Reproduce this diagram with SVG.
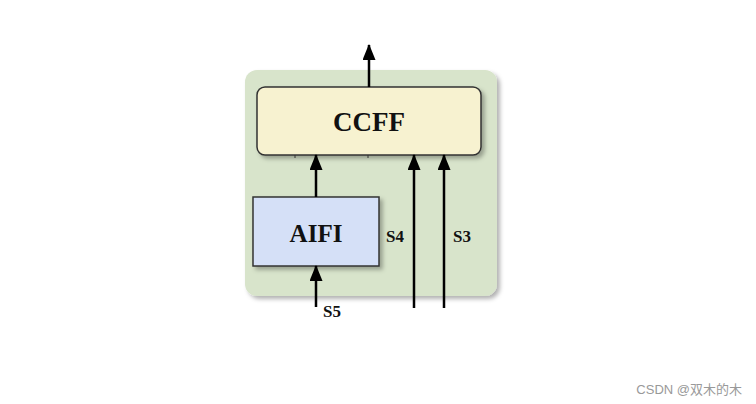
<svg xmlns="http://www.w3.org/2000/svg" width="756" height="404" viewBox="0 0 756 404">
<defs>
<marker id="ah" markerWidth="16" markerHeight="13" refX="15" refY="6.5" orient="auto" markerUnits="userSpaceOnUse" viewBox="0 0 16 13">
<path d="M0,0 L16,6.5 L0,13 Z" fill="#000"/>
</marker>
<filter id="sh" x="-10%" y="-10%" width="125%" height="125%">
<feDropShadow dx="3" dy="3" stdDeviation="2" flood-color="#000" flood-opacity="0.3"/>
</filter>
</defs>
<style>
.lbl{font-family:"Liberation Serif","DejaVu Serif",serif;font-weight:bold;fill:#111}
.ln{stroke:#000;stroke-width:2.5;fill:none}
</style>
<rect width="756" height="404" fill="#fff"/>
<g id="container">
<rect x="245" y="70" width="252" height="226" rx="12" fill="#d8e4cb" filter="url(#sh)"/>
</g>
<g id="ccff">
<rect x="257" y="87" width="224" height="68" rx="8" fill="#f7f2d0" stroke="#333" stroke-width="1.5" filter="url(#sh)"/>
<text class="lbl" x="369" y="131" font-size="27" text-anchor="middle">CCFF</text>
</g>
<g id="aifi">
<rect x="253" y="197" width="126" height="69" fill="#d5e0f7" stroke="#333" stroke-width="1.5" filter="url(#sh)"/>
<text class="lbl" x="316" y="242" font-size="25" text-anchor="middle">AIFI</text>
</g>
<g id="connectors">
<line class="ln" x1="369" y1="87" x2="369" y2="45" marker-end="url(#ah)"/>
<line class="ln" x1="316" y1="197" x2="316" y2="155" marker-end="url(#ah)"/>
<line class="ln" x1="316" y1="307" x2="316" y2="266" marker-end="url(#ah)"/>
<line class="ln" x1="414" y1="308" x2="414" y2="155" marker-end="url(#ah)"/>
<line class="ln" x1="444" y1="308" x2="444" y2="155" marker-end="url(#ah)"/>
<line x1="295" y1="155" x2="295" y2="158" stroke="#333" stroke-width="1"/>
<line x1="368" y1="155" x2="368" y2="158" stroke="#333" stroke-width="1"/>
</g>
<g id="labels">
<text class="lbl" x="395" y="242" font-size="17" text-anchor="middle">S4</text>
<text class="lbl" x="462" y="242" font-size="17" text-anchor="middle">S3</text>
<text class="lbl" x="332" y="317" font-size="17" text-anchor="middle">S5</text>
</g>
<text x="742" y="394" font-family="'Liberation Sans','Noto Sans CJK SC',sans-serif" font-size="13" fill="#999" text-anchor="end">CSDN @双木的木</text>
</svg>
